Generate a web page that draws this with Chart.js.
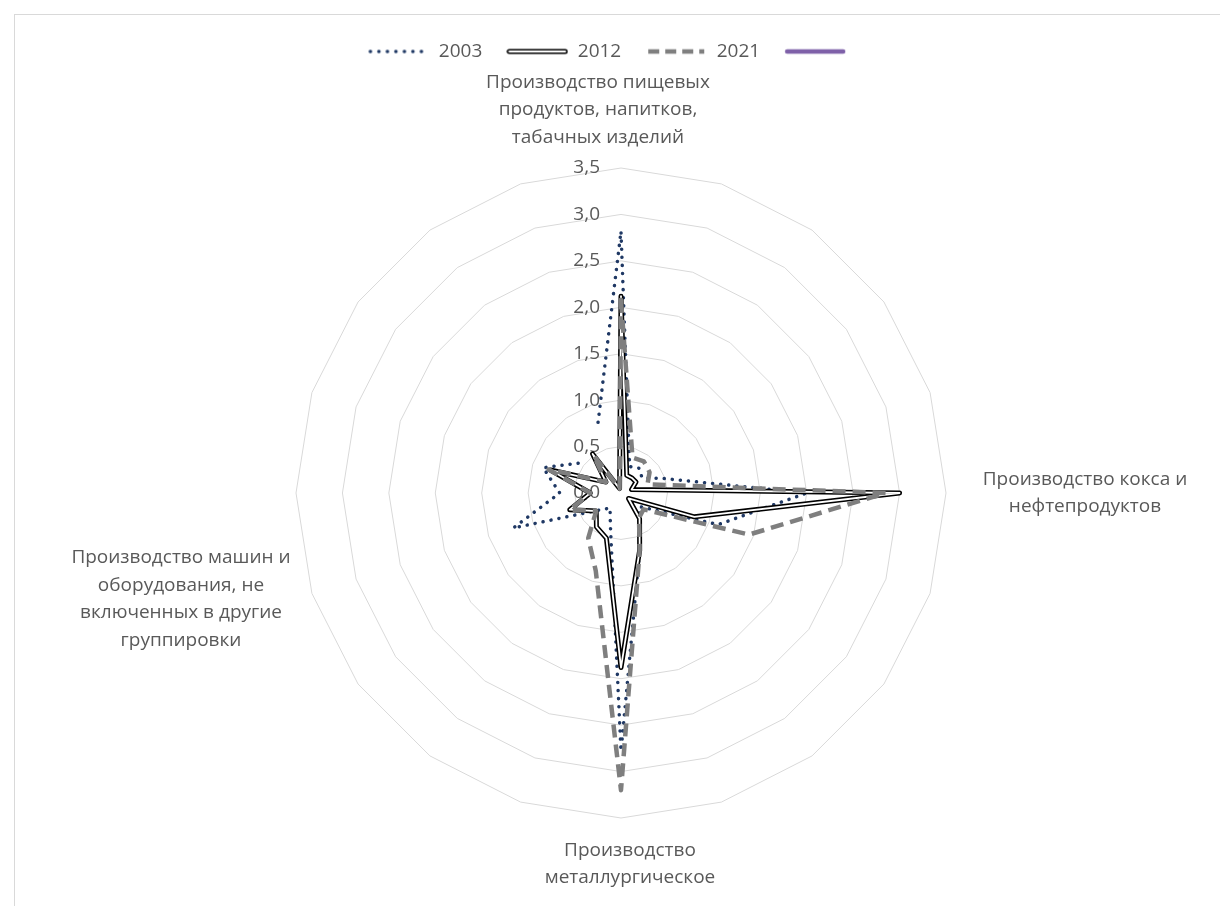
<!DOCTYPE html>
<html>
<head>
<meta charset="utf-8">
<script src="https://cdn.jsdelivr.net/npm/chart.js"></script>
<style>
  html, body { margin: 0; padding: 0; background: #fff; overflow: hidden; }
  #wrap { position: relative; width: 1220px; height: 906px; overflow: hidden; }
  #frame { position: absolute; left: 14px; top: 14px; width: 1300px; height: 1000px;
           border-top: 1.5px solid #d9d9d9; border-left: 1.5px solid #d9d9d9; }
  canvas { position: absolute; left: 0; top: 0; }
</style>
</head>
<body>
<div id="wrap">
  <div id="frame"></div>
  <!-- a little taller than the window so the web is centred where the original is -->
  <canvas id="radarChart" width="1220" height="916"></canvas>
</div>
<script>
// 20 spokes, only four of them are labelled in the source chart
const categories = [
  ['Производство пищевых', 'продуктов, напитков,', 'табачных изделий'], '', '', '', '',
  ['Производство кокса и', 'нефтепродуктов'], '', '', '', '',
  ['Производство', 'металлургическое'], '', '', '', '',
  ['Производство машин и', 'оборудования, не', 'включенных в другие', 'группировки'], '', '', '', ''
];

const seriesNames = ['2003', '2012', '2021', ''];

const values2003 = [2.82, 0.30, 0.33, 0.28, 0.50, 2.00, 1.10, 0.25, 0.33, 0.65,
                    2.78, 0.37, 0.20, 0.32, 1.22, 0.66, 0.88, 0.55, null, 0.80];
const values2012 = [2.12, 0.20, 0.20, 0.20, 0.12, 3.00, 0.83, 0.10, 0.34, 0.65,
                    1.88, 0.51, 0.45, 0.33, 0.58, 0.33, 0.80, 0.20, 0.52, 0.05];
const values2021 = [2.08, 0.40, 0.42, 0.38, 0.30, 2.85, 1.45, 0.30, 0.33, 0.65,
                    3.20, 0.88, 0.60, 0.33, 0.58, 0.33, 0.82, 0.20, 0.50, 0.05];
const valuesExtra = Array(20).fill(null);

const axisMax = 3.5;
const axisStep = 0.5;

const FONT = '"Open Sans", "Noto Sans", sans-serif';
const TEXT = '#595959';
const NAVY = '#1f3864';
const GREY = '#7f7f7f';
const PURPLE = '#7e60a8';

// legend line samples
function makeSwatch(draw) {
  const c = document.createElement('canvas');
  c.width = 62; c.height = 10;
  const g = c.getContext('2d');
  g.translate(0, 5);
  draw(g);
  return c;
}
function strokeSample(g) {
  g.beginPath(); g.moveTo(3, 0); g.lineTo(59, 0); g.stroke();
}
const swatches = {
  '2003': makeSwatch(g => {
    g.strokeStyle = NAVY; g.lineWidth = 3.5; g.lineCap = 'round'; g.setLineDash([0.1, 8.4]); strokeSample(g);
  }),
  '2012': makeSwatch(g => {
    g.lineCap = 'round';
    g.strokeStyle = '#000'; g.lineWidth = 5; strokeSample(g);
    g.strokeStyle = '#fff'; g.lineWidth = 1.8; strokeSample(g);
  }),
  '2021': makeSwatch(g => {
    g.strokeStyle = GREY; g.lineWidth = 4.5; g.setLineDash([11, 6]); strokeSample(g);
  }),
  '': makeSwatch(g => {
    g.strokeStyle = PURPLE; g.lineWidth = 4.5; g.lineCap = 'round'; strokeSample(g);
  })
};

// where the four category captions sit, relative to the centre of the web
const captionOffsets = { 0: [-23, -383], 5: [464, 0], 10: [9, 371], 15: [-440, 106] };

const radarText = {
  id: 'radarText',
  beforeDatasetsDraw(chart) {
    const r = chart.scales.r;
    const ctx = chart.ctx;
    ctx.save();
    ctx.font = '19px ' + FONT;
    ctx.fillStyle = TEXT;
    ctx.textAlign = 'right';
    ctx.textBaseline = 'middle';
    r.ticks.forEach(t => {
      const d = r.getDistanceFromCenterForValue(t.value);
      ctx.fillText(t.value.toFixed(1).replace('.', ','), r.xCenter - 21, r.yCenter - d);
    });
    ctx.restore();
  },
  afterDraw(chart) {
    const r = chart.scales.r;
    const ctx = chart.ctx;
    ctx.save();
    ctx.font = '19px ' + FONT;
    ctx.fillStyle = TEXT;
    ctx.textAlign = 'center';
    ctx.textBaseline = 'middle';
    const lh = 27.5;
    chart.data.labels.forEach((lab, i) => {
      if (!lab || !captionOffsets[i]) return;
      const lines = Array.isArray(lab) ? lab : [lab];
      const cx = r.xCenter + captionOffsets[i][0];
      const cy = r.yCenter + captionOffsets[i][1];
      lines.forEach((s, k) => {
        ctx.fillText(s, cx, cy + (k - (lines.length - 1) / 2) * lh);
      });
    });
    ctx.restore();
  }
};

new Chart(document.getElementById('radarChart'), {
  type: 'radar',
  data: {
    labels: categories,
    datasets: [
      { label: seriesNames[0], data: values2003, borderColor: NAVY, borderWidth: 3.5,
        borderDash: [0.1, 8], borderCapStyle: 'round', order: 5 },
      { label: seriesNames[1], data: values2012, borderColor: '#000', borderWidth: 5, order: 4 },
      { label: '2012-inner', data: values2012, borderColor: '#fff', borderWidth: 1.8, order: 3, inLegend: false },
      { label: seriesNames[2], data: values2021, borderColor: GREY, borderWidth: 4.5,
        borderDash: [13, 7], order: 2 },
      { label: seriesNames[3], data: valuesExtra, borderColor: PURPLE, borderWidth: 4.5, order: 1 }
    ].map(ds => Object.assign({ fill: false, pointRadius: 0, tension: 0, borderJoinStyle: 'round',
                                backgroundColor: 'transparent', spanGaps: false }, ds))
  },
  options: {
    responsive: false,
    animation: false,
    events: [],
    layout: { padding: { left: 296, right: 274, top: 18, bottom: 0 } },
    plugins: {
      tooltip: { enabled: false },
      legend: {
        position: 'top',
        labels: {
          usePointStyle: true,
          pointStyleWidth: 62,
          padding: 24,
          color: TEXT,
          font: { family: FONT, size: 19 },
          sort: (a, b) => a.datasetIndex - b.datasetIndex,
          generateLabels(chart) {
            const items = Chart.defaults.plugins.legend.labels.generateLabels(chart);
            return items
              .filter(it => chart.data.datasets[it.datasetIndex].inLegend !== false)
              .map(it => Object.assign(it, {
                pointStyle: swatches[it.text],
                // the unnamed series still takes a little room after its line
                text: it.text === '' ? '\u2003' : it.text
              }));
          }
        }
      }
    },
    scales: {
      r: {
        min: 0,
        max: axisMax,
        ticks: { stepSize: axisStep, display: false },
        grid: { color: '#d9d9d9', lineWidth: 1 },
        angleLines: { display: false },
        pointLabels: { display: false }
      }
    }
  },
  plugins: [radarText]
});
</script>
</body>
</html>
